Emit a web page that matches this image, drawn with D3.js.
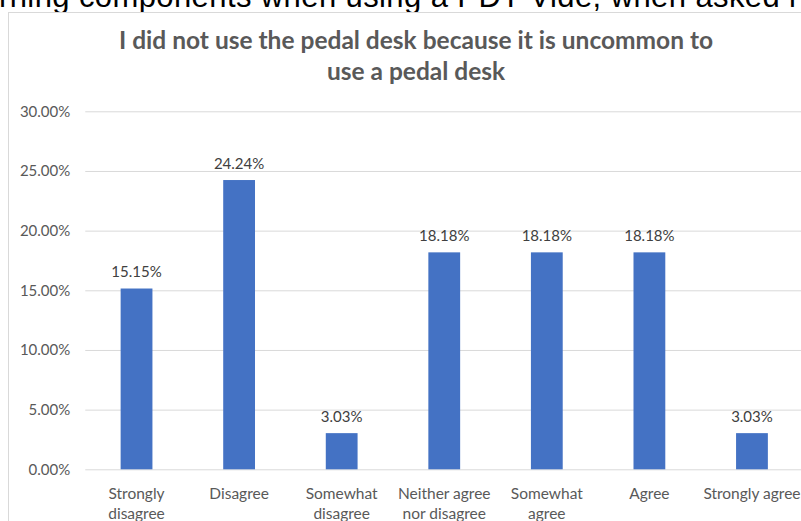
<!DOCTYPE html>
<html>
<head>
<meta charset="utf-8">
<script src="https://cdn.jsdelivr.net/npm/d3@7/dist/d3.min.js"></script>
<style>
  html, body { margin: 0; padding: 0; background: #fff; }
  svg { display: block; }
</style>
</head>
<body>
<svg id="chart" width="801" height="521"></svg>
<script>
// Survey responses: share of respondents per answer
const categories = [
  ["Strongly", "disagree"],
  ["Disagree"],
  ["Somewhat", "disagree"],
  ["Neither agree", "nor disagree"],
  ["Somewhat", "agree"],
  ["Agree"],
  ["Strongly agree"]
];
const values = [15.15, 24.24, 3.03, 18.18, 18.18, 18.18, 3.03];
const yTicks = [0, 5, 10, 15, 20, 25, 30];
const titleLines = [
  "I did not use the pedal desk because it is uncommon to",
  "use a pedal desk"
];
const headerText = "rning components when using a PDT-Vide, when asked i";

const svg = d3.select("#chart");
const font = "Lato, 'Open Sans', sans-serif";
const grey = "#595959";

// Page text running above the chart frame
svg.append("text")
  .attr("x", -1).attr("y", 7)
  .attr("font-family", "'Liberation Sans', Arial, sans-serif")
  .attr("font-size", 31).attr("fill", "#000")
  .attr("textLength", 797).attr("lengthAdjust", "spacing")
  .text(headerText);

// Chart frame
svg.append("rect")
  .attr("x", 8.5).attr("y", 12.5)
  .attr("width", 820).attr("height", 540)
  .attr("fill", "#fff").attr("stroke", "#d9d9d9").attr("stroke-width", 1);

const plot = { left: 85.25, right: 803.25, top: 111.3, bottom: 469.3 };

const x = d3.scaleBand()
  .domain(d3.range(categories.length))
  .range([plot.left, plot.right])
  .paddingInner(0.69).paddingOuter(0.345);

const y = d3.scaleLinear().domain([0, 30]).range([plot.bottom, plot.top]);

// Gridlines and y labels
const yAxis = d3.axisLeft(y).tickValues(yTicks)
  .tickSize(-(plot.right - plot.left))
  .tickPadding(15)
  .tickFormat(d => d.toFixed(2) + "%");
const gy = svg.append("g").attr("transform", `translate(${plot.left},0)`).call(yAxis);
gy.select(".domain").remove();
gy.selectAll(".tick line").attr("stroke", "#d9d9d9").attr("stroke-width", 1);
gy.selectAll(".tick text")
  .attr("font-family", font).attr("font-size", 15).attr("fill", grey);

// Bars
svg.append("g").selectAll("rect").data(values).join("rect")
  .attr("x", (d, i) => x(i))
  .attr("y", d => y(d))
  .attr("width", x.bandwidth())
  .attr("height", d => y(0) - y(d))
  .attr("fill", "#4472c4");

// Value labels
svg.append("g").selectAll("text").data(values).join("text")
  .attr("x", (d, i) => x(i) + x.bandwidth() / 2)
  .attr("y", d => y(d) - 11.5)
  .attr("text-anchor", "middle")
  .attr("font-family", font).attr("font-size", 15).attr("fill", "#404040")
  .text(d => d.toFixed(2) + "%");

// Category labels
const cat = svg.append("g").selectAll("text").data(categories).join("text")
  .attr("text-anchor", "middle")
  .attr("font-family", font).attr("font-size", 15.5).attr("fill", grey);
cat.selectAll("tspan").data((d, i) => d.map(s => ({ s, i }))).join("tspan")
  .attr("x", d => x(d.i) + x.bandwidth() / 2)
  .attr("y", (d, j) => 499 + j * 20)
  .text(d => d.s);

// Title
svg.append("text")
  .attr("text-anchor", "middle")
  .attr("font-family", font).attr("font-weight", "bold")
  .attr("font-size", 24.5).attr("fill", grey)
  .selectAll("tspan").data(titleLines).join("tspan")
  .attr("x", 416).attr("y", (d, i) => 49 + i * 31)
  .text(d => d);
</script>
</body>
</html>
